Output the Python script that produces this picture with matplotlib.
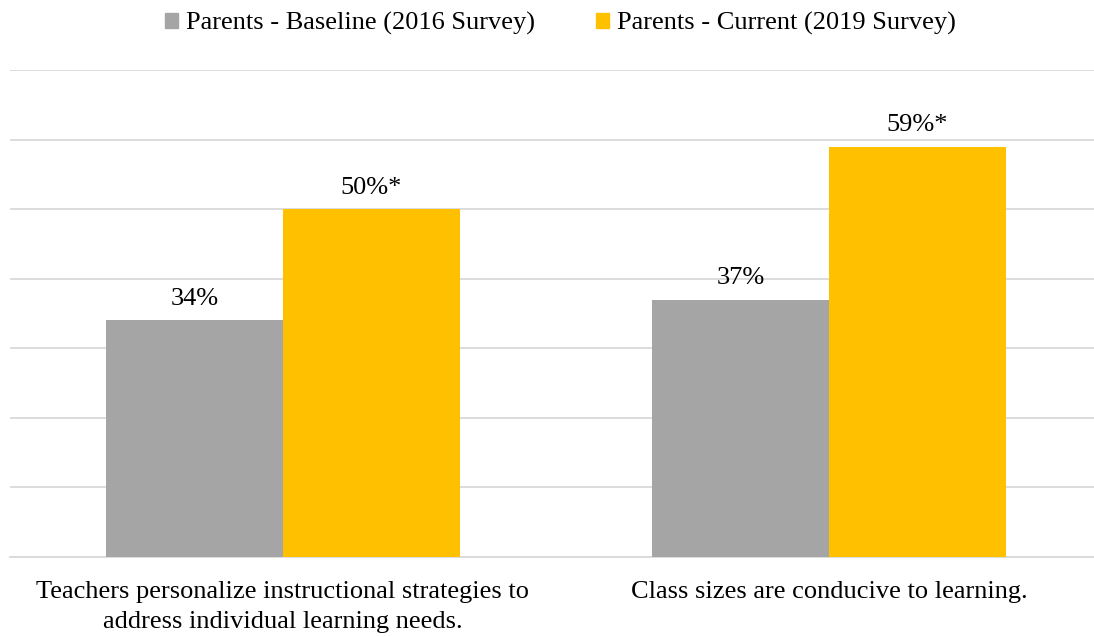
import matplotlib
matplotlib.use("Agg")
import matplotlib.pyplot as plt
import numpy as np
from matplotlib.patches import Patch

categories = ["Teachers personalize instructional strategies to\naddress individual learning needs.",
              "Class sizes are conducive to learning."]
series_names = ["Parents - Baseline (2016 Survey)", "Parents - Current (2019 Survey)"]
baseline = [34, 37]
current = [50, 59]
labels_baseline = ["34%", "37%"]
labels_current = ["50%*", "59%*"]
colors = ["#a5a5a5", "#ffc000"]

plt.rcParams['font.family'] = ['Liberation Serif', 'DejaVu Serif']
FS = 19

fig = plt.figure(figsize=(10.94, 6.37), dpi=100)
ax = fig.add_axes([10/1094, 1-557/637, 1092/1094, (557-70)/637])

x = np.arange(len(categories))
w = 0.324
b1 = ax.bar(x - w/2, baseline, w, color=colors[0], zorder=3)
b2 = ax.bar(x + w/2, current, w, color=colors[1], zorder=3)

for rect, lab in zip(b1, labels_baseline):
    ax.text(rect.get_x() + rect.get_width()/2, rect.get_height() + 1.5, lab,
            ha='center', va='bottom', fontsize=FS, color='#000000')
for rect, lab in zip(b2, labels_current):
    ax.text(rect.get_x() + rect.get_width()/2, rect.get_height() + 1.5, lab,
            ha='center', va='bottom', fontsize=FS, color='#000000')

ax.set_xlim(-0.5, 1.5)
ax.set_ylim(0, 70)
ax.set_yticks(np.arange(0, 71, 10))
ax.yaxis.grid(True, color='#d9d9d9', linewidth=1.3, zorder=0)
ax.set_yticklabels([])
ax.tick_params(axis='y', length=0)
ax.tick_params(axis='x', length=0, pad=17)
ax.set_xticks(x)
ax.set_xticklabels(categories, fontsize=FS, linespacing=1.5)
for s in ['top', 'right', 'left']:
    ax.spines[s].set_visible(False)
ax.spines['bottom'].set_color('#d9d9d9')
ax.spines['bottom'].set_linewidth(1.3)

handles = [Patch(color=colors[0]), Patch(color=colors[1])]
fig.legend(handles, series_names, loc='upper center', bbox_to_anchor=(0.512, 1.018),
           ncol=2, frameon=False, fontsize=FS, handlelength=0.5, handleheight=0.5,
           handletextpad=0.3, columnspacing=2.3)

fig.savefig("out.png", dpi=100)
